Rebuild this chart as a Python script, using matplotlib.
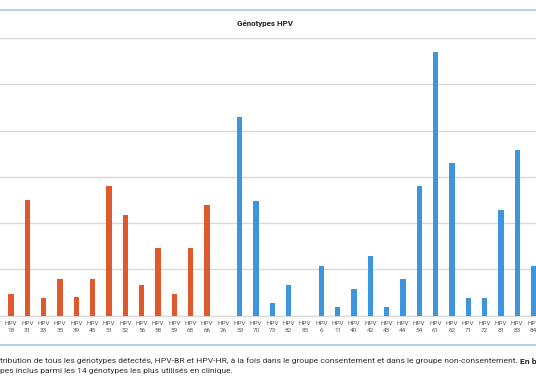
import numpy as np
import matplotlib
matplotlib.use("Agg")
import matplotlib.pyplot as plt
from matplotlib.lines import Line2D

# ---- data ----
genotypes = ["16", "18", "31", "33", "35", "39", "45", "51", "52", "56", "58", "59", "68", "66",
             "26", "53", "70", "73", "82", "85", "6", "11", "40", "42", "43", "44", "54", "61",
             "62", "71", "72", "81", "83", "84"]
values = [np.nan, 4.7, 24.9, 3.8, 7.8, 3.9, 7.8, 28.0, 21.7, 6.7, 14.7, 4.7, 14.7, 23.9,
          0, 42.9, 24.8, 2.6, 6.7, 0, 10.8, 1.8, 5.8, 12.9, 1.8, 7.8, 28.0, 57.0,
          32.9, 3.8, 3.8, 22.8, 35.8, 10.8]
n_red = 14  # 16 .. 26 are high-risk group (red)
tick_labels = ["HPV\n" + g for g in genotypes]

RED = "#DE5A2C"
BLUE = "#3D95DC"
LINE_BLUE = "#A9D0EC"
GRID = "#D9D9D9"

W, H = 536, 386
fig = plt.figure(figsize=(W / 100, H / 100), dpi=100)
plt.rcParams['font.family'] = ['Roboto', 'DejaVu Sans']

# axes geometry in pixels
px0, px1 = -20, 560
y0px, ytopx = 315.5, 38.0
ax = fig.add_axes([px0 / W, 1 - y0px / H, (px1 - px0) / W, (y0px - ytopx) / H])

x = np.arange(len(genotypes)) - 1  # index of "18" is 0
step = 16.33
first = 11.0
ax.set_xlim((px0 - first) / step, (px1 - first) / step)
ax.set_ylim(0, 60)

colors = [RED] * n_red + [BLUE] * (len(genotypes) - n_red)
vals = np.array(values, dtype=float)
ax.bar(x, vals, width=0.32, color=colors, zorder=3)

ax.set_yticks(np.arange(0, 61, 10))
ax.yaxis.grid(True, color=GRID, linewidth=1.0, zorder=0)
ax.tick_params(axis='y', left=False, labelleft=False)
ax.set_xticks(x)
ax.set_xticklabels(tick_labels, fontsize=4.6, color="#595959", linespacing=1.45)
ax.tick_params(axis='x', length=0, pad=4)
for s in ["top", "left", "right"]:
    ax.spines[s].set_visible(False)
ax.spines["bottom"].set_color(GRID)
ax.spines["bottom"].set_linewidth(1.0)

# title
fig.text(265 / W, 1 - 23.5 / H, "Génotypes HPV", ha="center", va="center",
         fontsize=5.8, fontweight="bold", color="#222222")

# decorative rules
fig.add_artist(Line2D([0, 1], [1 - 10 / H, 1 - 10 / H], color=LINE_BLUE, linewidth=1.3))
fig.add_artist(Line2D([0, 1], [1 - 345 / H, 1 - 345 / H], color=LINE_BLUE, linewidth=1.3))

# caption
cap1 = ("tribution de tous les génotypes détectés, HPV-BR et HPV-HR, à la fois dans le groupe "
        "consentement et dans le groupe non-consentement. ")
cap2 = "pes inclus parmi les 14 génotypes les plus utilisés en clinique."
t1 = fig.text(0.5 / W, 1 - 361 / H, cap1, ha="left", va="center", fontsize=6.1, color="#333333")
fig.text(0.5 / W, 1 - 370.5 / H, cap2, ha="left", va="center", fontsize=6.1, color="#333333")
fig.canvas.draw()
bb = t1.get_window_extent(renderer=fig.canvas.get_renderer())
fig.text(bb.x1 / W, 1 - 361 / H, "En bleu", ha="left", va="center",
         fontsize=6.1, fontweight="bold", color="#222222")

fig.savefig("out.png", dpi=100)
